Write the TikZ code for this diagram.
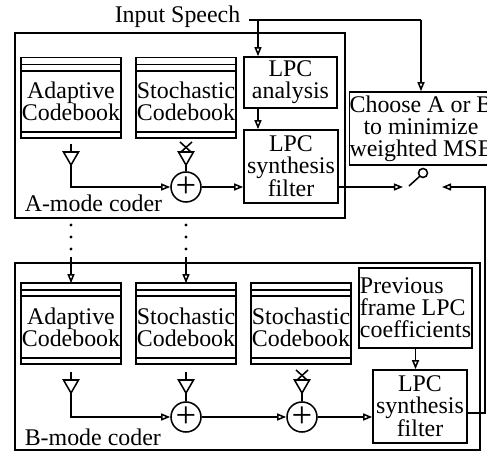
\documentclass[tikz,border=0pt]{standalone}
\usepackage{fontspec}
\setmainfont{Liberation Serif}
\usetikzlibrary{arrows.meta,calc}
\newlength\pu
\setlength\pu{0.025cm}

\begin{document}
\begin{tikzpicture}[x=0.025cm,y=-0.025cm,line width=1.1pt,
  every node/.style={font=\fontsize{17}{15.6}\selectfont},
  box/.style={draw,align=center,inner sep=0pt},
  cbook/.style={align=center,inner sep=0pt,minimum width=98*\pu,minimum height=60*\pu},
  sum/.style={draw,circle,minimum size=30*\pu,inner sep=0pt,font=\fontsize{26}{26}\selectfont},
  arr/.style={-{Triangle[open,length=6.5pt,width=5pt]}}]
  \useasboundingbox (0,0) rectangle (487,452);
  % coder frames
  \draw (15,33) rectangle (345,218);
  \draw (15,263) rectangle (480,450);
  \node[anchor=base west,inner sep=0pt] (labA) at (24,212) {A-mode coder};
  \node[anchor=base west,inner sep=0pt] (labB) at (24,445) {B-mode coder};
  % input speech and LPC blocks
  \node[anchor=base west,inner sep=0pt] (insp) at (114,23) {Input Speech};
  \node[box,minimum width=93*\pu,minimum height=51*\pu] (lpca) at (290.5,82.5) {LPC\\analysis};
  \node[box,minimum width=94*\pu,minimum height=73*\pu] (synA) at (291,166.5) {LPC\\synthesis\\filter};
  \node[box,minimum width=142*\pu,minimum height=73*\pu] (choose) at (421,128.5) {Choose A or B\\to minimize\\weighted MSE};
  \node[box,align=left,minimum width=113*\pu,minimum height=80*\pu] (prev) at (415.5,308) {Previous\\frame LPC\\coefficients};
  \node[box,minimum width=94*\pu,minimum height=73*\pu] (synB) at (420,406.5) {LPC\\synthesis\\filter};
  \coordinate (spd) at ($(insp.base east)+(8,-3)$);
  \coordinate (tapA) at (258,20);
  \coordinate (tapC) at (421,20);
  \draw (spd) -- (tapC);
  \draw[arr] (tapA) -- (tapA |- lpca.north);
  \draw[arr] (tapC) -- (choose.north);
  \draw[arr] (tapA |- lpca.south) -- (tapA |- synA.north);
  \draw[arr] (prev.south) -- (prev.south |- synB.north);
  % codebooks
  \node[cbook] (acbA) at (71,101.5) {Adaptive\\Codebook};
  \node[cbook] (scbA) at (186,101.5) {Stochastic\\Codebook};
  \node[cbook] (acbB) at (71,327) {Adaptive\\Codebook};
  \node[cbook] (scbB) at (186,327) {Stochastic\\Codebook};
  \node[cbook] (scbC) at (301,327) {Stochastic\\Codebook};
  \foreach \n in {acbA,scbA,acbB,scbB,scbC} {
    \draw ($(\n.north west)+(0,-13)$) rectangle ($(\n.south east)+(0,6)$);
    \draw ($(\n.north west)+(0,-6)$) -- ($(\n.north east)+(0,-6)$);
    \draw[line width=1.7pt] (\n.north west) -- (\n.north east);
    \draw[line width=1.7pt] (\n.south west) -- (\n.south east);
  }
  % gains
  \foreach \x/\y/\n in {71/152/gA1,186/152/gA2,71/380/gB1,186/380/gB2,302/380/gB3} {
    \draw (\x-7.5,\y) -- (\x+7.5,\y) -- (\x,\y+13) -- cycle;
    \coordinate (\n-in) at (\x,\y);
    \coordinate (\n-out) at (\x,\y+13);
  }
  \foreach \n in {gA1,gB1,gB2}
    \draw (\n-in) -- ++(0,-8);
  \foreach \n in {gA2,gB3} {
    \draw ($(\n-in)+(-6,-10)$) -- ($(\n-in)+(5,0)$);
    \draw ($(\n-in)+(6,-10)$) -- ($(\n-in)+(-5,0)$);
  }
  % adders
  \node[sum] (sA) at (186,187) {+};
  \node[sum] (sB1) at (186,417) {+};
  \node[sum] (sB2) at (302,417) {+};
  \draw[arr] (gA1-out) |- (sA.west);
  \draw (gA2-out) -- (sA.north);
  \draw[arr] (sA.east) -- (synA.west |- sA.east);
  \draw[arr] (gB1-out) |- (sB1.west);
  \draw (gB2-out) -- (sB1.north);
  \draw[arr] (sB1.east) -- (sB2.west);
  \draw (gB3-out) -- (sB2.north);
  \draw[arr] (sB2.east) -- (synB.west |- sB2.east);
  % dotted links A to B
  \foreach \x/\n in {71/acbB,186/scbB} {
    \foreach \y in {225,237,249}
      \fill (\x,\y) circle (1.2pt);
    \draw[arr] (\x,257) -- ($(\n.north)+(0,-13)$);
  }
  % switch
  \node[draw,circle,minimum size=9*\pu,inner sep=0pt] (sw) at (423,173) {};
  \coordinate (arm) at (409,186);
  \coordinate (swin) at (403,187);
  \coordinate (swret) at (442,187);
  \coordinate (rtB) at (485,413);
  \draw (arm) -- (sw.south west);
  \draw[arr] (synA.east |- swin) -- (swin);
  \draw[arr] (synB.east |- rtB) -- (rtB) |- (swret);
\end{tikzpicture}
\end{document}
